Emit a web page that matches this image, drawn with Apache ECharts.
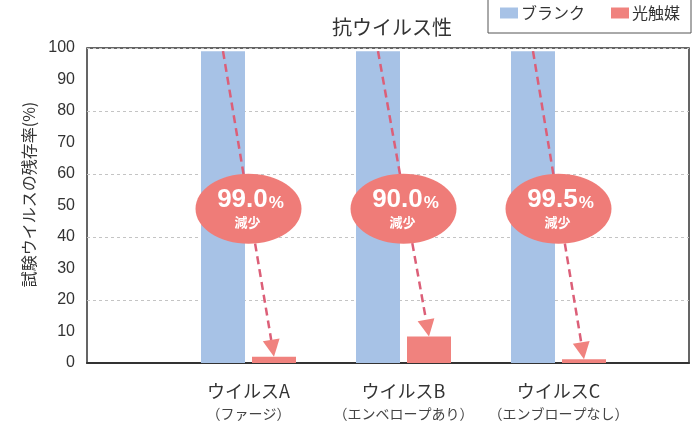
<!DOCTYPE html>
<html><head><meta charset="utf-8">
<script src="https://cdn.jsdelivr.net/npm/echarts@6/dist/echarts.min.js"></script>
<style>html,body{margin:0;padding:0;background:#fff}#c{width:696px;height:423px}</style>
</head><body><div id="c"></div>
<script>
const categories = ['ウイルスA', 'ウイルスB', 'ウイルスC'];
const subLabels = ['（ファージ）', '（エンベロープあり）', '（エンブロープなし）'];
const blankValues = [99, 99, 99];
const photoValues = [2.0, 8.4, 1.2];
const reductions = ['99.0', '90.0', '99.5'];
const badgeLevel = 49;
const yTicks = [0, 10, 20, 30, 40, 50, 60, 70, 80, 90, 100];

const JP = "'Noto Sans CJK JP', sans-serif";
const NUM = "'Liberation Sans', 'Noto Sans CJK JP', sans-serif";
const BLUE = '#a7c2e6', RED = '#f0827e', BADGE = '#ef7c78', ARROW = '#dc5f78';
const BAR_W = 44, GAP = 7;

const chart = echarts.init(document.getElementById('c'), null, {renderer: 'canvas'});

const arrowData = categories.map((c, i) => [i, blankValues[i], photoValues[i]]);

function renderArrow(params, api) {
  const idx = api.value(0);
  const off = BAR_W / 2 + GAP / 2;
  const cx = api.coord([idx, 0])[0];
  const y1 = api.coord([idx, api.value(1)])[1];
  const y2 = api.coord([idx, api.value(2)])[1];
  const p1 = [cx - off, y1], tip = [cx + off, y2];
  const dx = tip[0] - p1[0], dy = tip[1] - p1[1];
  const len = Math.sqrt(dx * dx + dy * dy);
  const ux = dx / len, uy = dy / len;
  const ah = 17, aw = 8.5;
  const base = [tip[0] - ux * ah, tip[1] - uy * ah];
  const px = -uy, py = ux;
  const by = api.coord([idx, badgeLevel])[1];
  return {
    type: 'group',
    children: [
      {type: 'line', shape: {x1: p1[0], y1: p1[1], x2: base[0], y2: base[1]},
       style: {stroke: ARROW, lineWidth: 2.5, lineDash: [8, 5]}},
      {type: 'polygon', shape: {points: [tip, [base[0] + px * aw, base[1] + py * aw], [base[0] - px * aw, base[1] - py * aw]]},
       style: {fill: RED}},
      {type: 'ellipse', shape: {cx: cx, cy: by, rx: 53, ry: 35}, style: {fill: BADGE}},
      {type: 'text', x: cx + 2, y: by,
       style: {
         text: '{n|' + reductions[idx] + '}{p|%}\n{s|減少}',
         align: 'center', verticalAlign: 'middle',
         rich: {
           n: {fontSize: 26, fontWeight: 'bold', fill: '#fff', fontFamily: NUM, lineHeight: 27, verticalAlign: 'bottom'},
           p: {fontSize: 17, fontWeight: 'bold', fill: '#fff', fontFamily: NUM, lineHeight: 27, verticalAlign: 'bottom', padding: [0, 0, 1, 1]},
           s: {fontSize: 13, fontWeight: 'bold', fill: '#fff', fontFamily: JP, lineHeight: 18, align: 'center', padding: [0, 6, 0, 0]}
         }
       }}
    ]
  };
}

chart.setOption({
  animation: false,
  backgroundColor: '#fff',
  title: {
    text: '抗ウイルス性', left: 327, top: 12,
    textStyle: {fontFamily: JP, fontSize: 20, fontWeight: 'normal', color: '#333'}
  },
  legend: {
    data: ['ブランク', '光触媒'], left: 488, top: -4,
    padding: [9, 11, 12, 12], itemWidth: 18, itemHeight: 11, itemGap: 26,
    borderColor: '#555', borderWidth: 1, backgroundColor: '#fff',
    icon: 'rect',
    textStyle: {fontFamily: JP, fontSize: 16, color: '#333', padding: [0, 0, 0, -2]}
  },
  grid: [
    {left: 171, right: 60, top: 48, bottom: 60, outerBoundsMode: 'none', containLabel: false},
    {left: 87, right: 7, top: 48, bottom: 60, outerBoundsMode: 'none', containLabel: false,
     show: true, borderColor: '#333', borderWidth: 1.5, backgroundColor: 'transparent'}
  ],
  xAxis: [
    {type: 'category', gridIndex: 0, data: categories,
     axisLine: {show: false}, axisTick: {show: false},
     axisLabel: {
       margin: 16, interval: 0,
       formatter: (v, i) => '{a|' + v + '}\n{b|' + subLabels[i] + '}',
       rich: {
         a: {fontFamily: JP, fontSize: 18, color: '#333', lineHeight: 25},
         b: {fontFamily: JP, fontSize: 14, color: '#444', lineHeight: 20}
       }
     }},
    {type: 'value', gridIndex: 1, min: 0, max: 1,
     axisLine: {show: true, lineStyle: {color: '#333', width: 2}},
     axisTick: {show: false}, axisLabel: {show: false}, splitLine: {show: false}}
  ],
  yAxis: [
    {type: 'value', gridIndex: 0, min: 0, max: 100, interval: 10, offset: 84,
     axisLine: {show: false}, axisTick: {show: false}, splitLine: {show: false},
     axisLabel: {fontFamily: NUM, fontSize: 16, color: '#333', margin: 12,
       formatter: v => yTicks.includes(v) ? String(v) : ''},
     name: '試験ウイルスの残存率(%)', nameLocation: 'middle', nameGap: 48,
     nameTextStyle: {fontFamily: JP, fontSize: 16, color: '#333', padding: [0, 0, 0, 22]}},
    {type: 'value', gridIndex: 1, min: 0, max: 100, interval: 20,
     axisLine: {show: false}, axisTick: {show: false}, axisLabel: {show: false},
     splitLine: {show: true, lineStyle: {color: '#c4c4c4', type: [3, 3], width: 1}}}
  ],
  series: [
    {name: 'ブランク', type: 'bar', xAxisIndex: 0, yAxisIndex: 0, data: blankValues,
     barWidth: BAR_W, barGap: (GAP / BAR_W * 100) + '%', itemStyle: {color: BLUE}},
    {name: '光触媒', type: 'bar', xAxisIndex: 0, yAxisIndex: 0, data: photoValues,
     barWidth: BAR_W, barGap: (GAP / BAR_W * 100) + '%', itemStyle: {color: RED}},
    {type: 'custom', xAxisIndex: 0, yAxisIndex: 0, data: arrowData, renderItem: renderArrow, z: 5, silent: true}
  ]
});
</script></body></html>
